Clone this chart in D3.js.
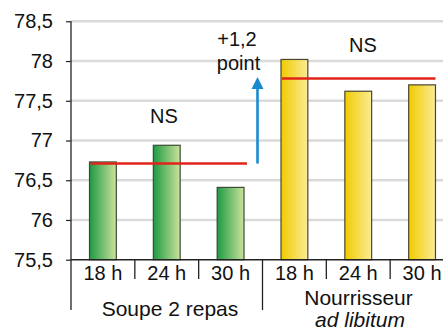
<!DOCTYPE html>
<html><head><meta charset="utf-8">
<script src="https://cdn.jsdelivr.net/npm/d3@7"></script>
<style>body{margin:0;background:#fff}svg{display:block}text{font-family:"Liberation Sans",Arial,sans-serif;fill:#111}</style>
</head><body><svg id="c" width="443" height="329"></svg>
<script>
const categories = ["18 h","24 h","30 h","18 h","24 h","30 h"];
const groupOf = [0,0,0,1,1,1];
const values = [76.73, 76.94, 76.41, 78.02, 77.62, 77.70];
const groups = ["Soupe 2 repas", "Nourrisseur"];
const groupMeans = [76.71, 77.78];
const groupNotes = ["NS", "NS"];
const yTicks = [75.5, 76, 76.5, 77, 77.5, 78, 78.5];

const svg = d3.select("#c");
const x = d3.scaleBand().domain(d3.range(categories.length)).range([71, 454]).padding(0);
const y = d3.scaleLinear().domain([75.5, 78.5]).range([259.7, 21.3]);
const bw = x.bandwidth() * 0.42;

const defs = svg.append("defs");
const gG = defs.append("linearGradient").attr("id","gGreen");
gG.append("stop").attr("offset","0%").attr("stop-color","#1f9a45");
gG.append("stop").attr("offset","100%").attr("stop-color","#cbe39c");
const gY = defs.append("linearGradient").attr("id","gYellow");
gY.append("stop").attr("offset","0%").attr("stop-color","#efcc00");
gY.append("stop").attr("offset","100%").attr("stop-color","#fbeb96");

// grid
svg.append("g").selectAll("line").data(yTicks.slice(1)).join("line")
  .attr("x1",71).attr("x2",443).attr("y1",d=>y(d)).attr("y2",d=>y(d))
  .attr("stroke","#dadada").attr("stroke-width",2.5);

// bars
svg.append("g").selectAll("rect").data(values).join("rect")
  .attr("x",(d,i)=>x(i)+x.bandwidth()/2-bw/2)
  .attr("width",bw)
  .attr("y",d=>y(d))
  .attr("height",d=>y(75.5)-y(d))
  .attr("fill",(d,i)=>groupOf[i]===0?"url(#gGreen)":"url(#gYellow)")
  .attr("stroke",(d,i)=>groupOf[i]===0?"#3c4a33":"#4a4630")
  .attr("stroke-width",1.2);

// mean lines
groupMeans.forEach((m,g)=>{
  const idx = d3.range(categories.length).filter(i=>groupOf[i]===g);
  const x0 = x(idx[0])+x.bandwidth()/2-bw/2+1;
  const x1 = x(idx[idx.length-1])+x.bandwidth()/2+bw/2+ (g===0?3:0);
  svg.append("line").attr("x1",x0).attr("x2",x1).attr("y1",y(m)).attr("y2",y(m))
    .attr("stroke","#e2231a").attr("stroke-width",2.6);
});

// y axis
const ya = svg.append("g").attr("transform","translate(71,0)")
  .call(d3.axisLeft(y).tickValues(yTicks).tickSize(5).tickPadding(13)
    .tickFormat(d=>String(d).replace(".",",")));
ya.select(".domain").remove();
ya.selectAll(".tick line").attr("stroke","#222").attr("stroke-width",1.2);
ya.selectAll(".tick text").attr("font-size",20).attr("fill","#111")
  .attr("font-family","Liberation Sans, Arial, sans-serif");
svg.append("line").attr("x1",71).attr("x2",71).attr("y1",y(78.5)).attr("y2",310)
  .attr("stroke","#222").attr("stroke-width",1.3);

// x axis
svg.append("line").attr("x1",71).attr("x2",443).attr("y1",y(75.5)).attr("y2",y(75.5))
  .attr("stroke","#222").attr("stroke-width",1.4);
svg.append("g").selectAll("line").data(d3.range(1,categories.length)).join("line")
  .attr("x1",i=>x(i)).attr("x2",i=>x(i)).attr("y1",y(75.5))
  .attr("y2",i=>groupOf[i]!==groupOf[i-1]?310:279)
  .attr("stroke","#222").attr("stroke-width",1.3);
svg.append("g").selectAll("text").data(categories).join("text")
  .attr("x",(d,i)=>x(i)+x.bandwidth()/2).attr("y",280)
  .attr("text-anchor","middle").attr("font-size",20).text(d=>d);

// group labels
svg.append("text").attr("x",170).attr("y",316).attr("text-anchor","middle")
  .attr("font-size",21).text(groups[0]);
svg.append("text").attr("x",358.5).attr("y",305).attr("text-anchor","middle")
  .attr("font-size",21).text(groups[1]);
svg.append("text").attr("x",360).attr("y",327).attr("text-anchor","middle")
  .attr("font-size",21).attr("font-style","italic").text("ad libitum");

// NS labels
svg.append("text").attr("x",164).attr("y",123).attr("text-anchor","middle").attr("font-size",20).text(groupNotes[0]);
svg.append("text").attr("x",363).attr("y",52).attr("text-anchor","middle").attr("font-size",20).text(groupNotes[1]);

// arrow
const ax = 257.5;
svg.append("line").attr("x1",ax).attr("x2",ax).attr("y1",y(groupMeans[0])).attr("y2",86)
  .attr("stroke","#1a8ad0").attr("stroke-width",2.6);
svg.append("path").attr("d",`M${ax-6},89 L${ax},77 L${ax+6},89 Z`).attr("fill","#1a8ad0");
svg.append("text").attr("x",237).attr("y",46).attr("text-anchor","middle").attr("font-size",20).text("+1,2");
svg.append("text").attr("x",238.5).attr("y",70).attr("text-anchor","middle").attr("font-size",20).text("point");
</script></body></html>
